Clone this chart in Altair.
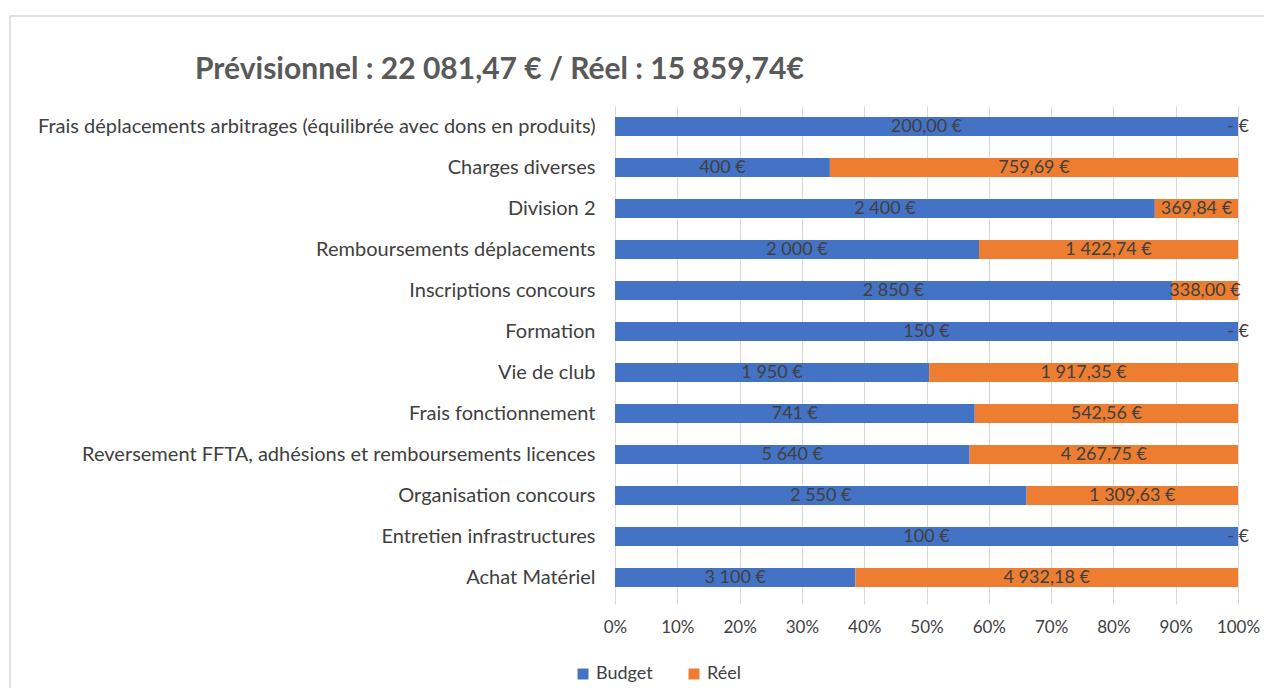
import altair as alt
import pandas as pd

categories = [
    "Frais déplacements arbitrages (équilibrée avec dons en produits)",
    "Charges diverses",
    "Division 2",
    "Remboursements déplacements",
    "Inscriptions concours",
    "Formation",
    "Vie de club",
    "Frais fonctionnement",
    "Reversement FFTA, adhésions et remboursements licences",
    "Organisation concours",
    "Entretien infrastructures",
    "Achat Matériel",
]
budget = [200.00, 400, 2400, 2000, 2850, 150, 1950, 741.47, 5640, 2550, 100, 3100]
reel = [0, 759.69, 369.84, 1422.74, 338.00, 0, 1917.35, 542.56, 4267.75, 1309.63, 0, 4932.18]
budget_labels = ["200,00 €", "400 €", "2 400 €", "2 000 €", "2 850 €", "150 €",
                 "1 950 €", "741 €", "5 640 €", "2 550 €", "100 €", "3 100 €"]
reel_labels = ["- €", "759,69 €", "369,84 €", "1 422,74 €", "338,00 €", "- €",
               "1 917,35 €", "542,56 €", "4 267,75 €", "1 309,63 €", "- €", "4 932,18 €"]
series = ["Budget", "Réel"]
colors = ["#4472C4", "#ED7D31"]
title_text = "Prévisionnel : 22 081,47 € / Réel : 15 859,74€"

rows = []
for i, c in enumerate(categories):
    rows.append({"cat": c, "serie": "Budget", "order": 0, "value": budget[i], "label": budget_labels[i]})
    rows.append({"cat": c, "serie": "Réel", "order": 1, "value": reel[i], "label": reel_labels[i]})
df = pd.DataFrame(rows)

FONT = "Lato"
TXT = "#404040"

base = alt.Chart(df).transform_stack(
    stack="value", as_=["v0", "v1"], groupby=["cat"], offset="normalize",
    sort=[alt.SortField("order", order="ascending")]
).transform_calculate(mid="(datum.v0 + datum.v1) / 2")

y_enc = alt.Y("cat:N", sort=categories, title=None,
              axis=alt.Axis(labelFont=FONT, labelFontSize=20, labelColor=TXT, labelLimit=700,
                            labelPadding=20, ticks=False, domain=False, grid=False))

bars = base.mark_bar(size=19).encode(
    x=alt.X("v0:Q", scale=alt.Scale(domain=[0, 1], nice=False), title=None,
            axis=alt.Axis(format=".0%", values=[i / 10 for i in range(11)], grid=True,
                          gridColor="#D9D9D9", domain=False, tickColor="#D9D9D9", tickSize=6,
                          labelOverlap=False, labelFlush=False, labelFont=FONT, labelFontSize=17,
                          labelColor=TXT, labelPadding=15)),
    x2="v1:Q",
    y=y_enc,
    color=alt.Color("serie:N", scale=alt.Scale(domain=series, range=colors), title=None,
                    legend=alt.Legend(orient="none", legendX=-41, legendY=559, direction="horizontal",
                                      symbolType="square", symbolSize=120, labelFont=FONT,
                                      labelFontSize=18, labelColor=TXT, columnPadding=32,
                                      symbolStrokeWidth=0, labelOffset=4)),
)

texts = base.mark_text(font=FONT, fontSize=18, color=TXT).encode(
    x="mid:Q",
    y=alt.Y("cat:N", sort=categories),
    text="label:N",
)

frame = alt.Chart(pd.DataFrame({"a": [0]})).mark_rect(
    fill=None, stroke="#D9D9D9", strokeWidth=1.5
).encode(x=alt.value(-605), x2=alt.value(700), y=alt.value(-90), y2=alt.value(700))

title = alt.Chart(pd.DataFrame({"t": [title_text]})).mark_text(
    font=FONT, fontSize=30, fontWeight="bold", color="#595959", align="left", baseline="middle"
).encode(x=alt.value(-420), y=alt.value(-36), text="t:N")

chart = alt.layer(frame, bars, texts, title).properties(
    width=623, height=492,
    autosize=alt.AutoSizeParams(type="none"),
    padding={"left": 607, "top": 98, "right": 26, "bottom": 90},
).configure_view(stroke=None)

chart.save("out.html", embed_options={"renderer": "svg", "actions": False})
